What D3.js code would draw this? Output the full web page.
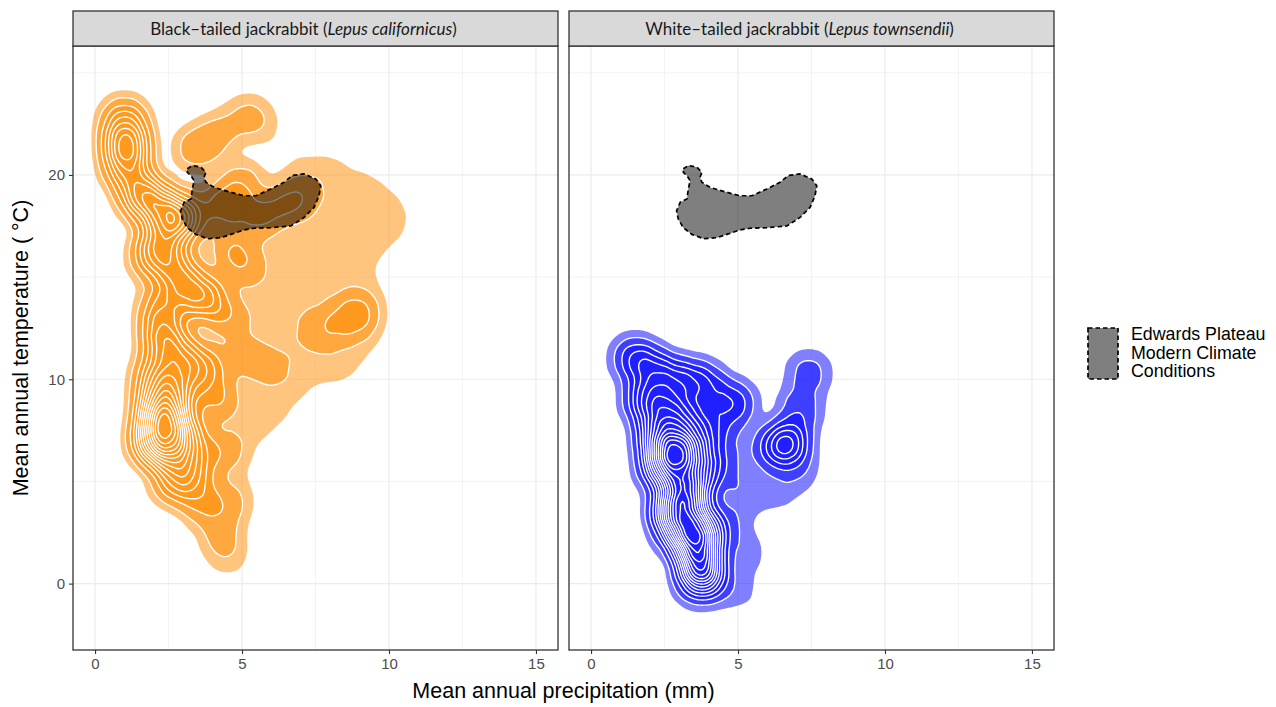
<!DOCTYPE html>
<html>
<head>
<meta charset="utf-8">
<script src="https://cdn.jsdelivr.net/npm/d3@7"></script>
<style>
  body { margin: 0; background: #fff; }
  svg { display: block; }
</style>
</head>
<body>
<svg id="chart" width="1276" height="707"></svg>
<script>
// Black-tailed jackrabbit localities: precipitation (mm), temperature (°C), number of records
const btjPrecip = [1.0, 1.05, 1.1, 1.6, 2.2, 2.9, 2.3, 2.0, 2.7, 3.7, 3.0, 2.3, 2.3, 2.4, 3.0, 3.7, 2.1, 2.7, 2.5, 2.1,
                   2.0, 2.5, 3.1, 3.3, 2.7, 3.6, 4.2, 4.5, 3.4, 4.3, 5.2, 5.6, 5.0, 4.4, 5.6, 6.6, 7.2, 5.0, 4.5, 8.9,
                   8.3, 7.6, 5.0, 6.0, 4.1, 4.3, 4.6, 4.6, 4.0,
                   6.6, 7.4, 8.2, 8.0, 8.8, 9.4, 8.0, 8.8, 9.6, 10.1, 7.4, 8.2, 9.0, 9.8, 10.2,
                   5.6, 6.4, 7.2, 8.0, 8.8, 9.6, 5.2, 6.0, 6.8, 7.6, 8.4, 9.1, 5.2, 6.0, 6.8, 7.6, 8.4, 9.2,
                   5.2, 6.0, 6.8, 7.6, 9.3, 5.2, 6.0, 6.8, 7.6, 8.4, 9.2, 5.2, 6.0, 6.8, 7.6, 8.4, 9.1,
                   5.6, 6.4, 7.2, 8.0, 8.5, 5.4, 6.2, 7.0, 5.0, 5.8, 6.2, 5.0, 5.6, 4.9, 4.7, 4.6, 4.5];
const btjTemp   = [22.7, 21.5, 20.3, 19.0, 18.4, 17.9, 17.0, 16.0, 15.6, 14.0, 14.6, 13.6, 12.5, 11.5, 11.0, 10.5, 10.0, 9.5, 8.0, 8.5,
                   7.0, 6.5, 7.0, 5.5, 5.0, 4.0, 2.5, 1.3, 21.3, 22.2, 23.0, 22.4, 19.6, 18.5, 18.0, 18.6, 19.2, 15.5, 13.0, 13.2,
                   12.8, 12.4, 11.0, 10.6, 9.0, 6.5, 4.0, 16.5, 21.6,
                   20.5, 20.5, 20.5, 19.5, 19.5, 19.5, 18.5, 18.5, 18.5, 18.5, 17.5, 17.5, 17.5, 17.5, 17.5,
                   16.5, 16.5, 16.5, 16.5, 16.5, 16.5, 15.5, 15.5, 15.5, 15.5, 15.5, 15.5, 14.5, 14.5, 14.5, 14.5, 14.5, 14.5,
                   13.5, 13.5, 13.5, 13.5, 13.5, 12.5, 12.5, 12.5, 12.5, 12.5, 12.5, 11.5, 11.5, 11.5, 11.5, 11.5, 11.5,
                   10.5, 10.5, 10.5, 10.5, 10.5, 9.5, 9.5, 9.5, 8.5, 8.5, 8.5, 7.5, 7.5, 6.5, 5.0, 3.5, 2.0];
const btjCount  = [3, 6, 4, 5, 4, 6, 3.5, 3.5, 3, 4, 3, 2.5, 3, 3.5, 3, 3, 4, 5, 8, 5,
                   6, 5, 4, 3, 3, 2, 1, 0.6, 1.5, 0.9, 0.9, 0.6, 1.5, 2.5, 2, 1.8, 0.8, 1.2, 1.5, 2.0,
                   0.8, 0.8, 1.0, 0.6, 2, 1.5, 1, 1.5, 0.5,
                   0.25, 0.25, 0.25, 0.25, 0.25, 0.25, 0.25, 0.25, 0.25, 0.25, 0.25, 0.25, 0.25, 0.25, 0.25,
                   0.25, 0.25, 0.25, 0.25, 0.25, 0.25, 0.2, 0.25, 0.25, 0.25, 0.25, 0.25, 0.2, 0.25, 0.25, 0.25, 0.25, 0.25,
                   0.2, 0.25, 0.25, 0.25, 0.25, 0.2, 0.25, 0.25, 0.25, 0.25, 0.25, 0.2, 0.25, 0.25, 0.25, 0.25, 0.25,
                   0.2, 0.25, 0.25, 0.25, 0.25, 0.2, 0.25, 0.25, 0.2, 0.25, 0.25, 0.2, 0.25, 0.25, 0.25, 0.25, 0.25];

// White-tailed jackrabbit localities
const wtjPrecip = [1.5, 2.2, 2.9, 3.6, 4.1, 4.85, 1.9, 2.6, 3.3, 2.3, 2.9, 3.5, 2.4, 3.0, 3.3, 2.8, 3.5, 3.0, 3.6, 3.7,
                   3.9, 3.6, 4.0, 3.9, 4.2, 4.6, 5.2, 5.2, 5.0, 5.6, 6.3, 6.7, 7.1, 7.4, 7.0, 6.3, 4.8];
const wtjTemp   = [11.0, 10.4, 9.9, 9.9, 9.5, 8.8, 9.0, 8.5, 8.0, 7.3, 6.6, 6.5, 5.8, 5.3, 4.4, 3.6, 3.0, 2.5, 1.9, 0.8,
                   0.2, -0.2, 2.5, 5.5, 7.5, 6.0, 4.5, 1.5, -0.3, 6.8, 6.5, 6.9, 8.5, 10.3, 5.5, 4.5, 3.0];
const wtjCount  = [2, 2, 2, 1.5, 1.0, 1.8, 3, 3, 3, 4, 6, 3, 4, 4, 5, 5, 4, 3, 5, 5,
                   2, 0.6, 2, 2, 1.5, 0.6, 0.6, 0.5, 0.4, 0.3, 1.2, 3, 1.2, 1, 0.6, 0.4, 0.5];

// Edwards Plateau modern climate envelope (outline vertices)
const plateauPrecip = [3.14, 3.31, 3.60, 3.77, 3.71, 3.77, 4.05, 4.62, 5.07, 5.47, 5.98, 6.43, 6.71, 7.11, 7.51, 7.68, 7.62, 7.45,
                       7.11, 6.66, 5.98, 5.41, 5.07, 4.62, 4.28, 3.82, 3.43, 3.14, 2.97, 2.91, 3.03, 3.26, 3.31, 3.37, 3.26, 3.14];
const plateauTemp   = [20.30, 20.46, 20.38, 20.13, 19.89, 19.64, 19.39, 19.15, 18.98, 18.98, 19.31, 19.64, 19.97, 20.05, 19.80, 19.47, 18.98, 18.41,
                       17.92, 17.50, 17.42, 17.39, 17.31, 17.09, 16.93, 16.88, 17.09, 17.42, 17.83, 18.24, 18.66, 18.82, 19.31, 19.72, 19.97, 20.13];

const xTicks = [0, 5, 10, 15];
const xMinor = [2.5, 7.5, 12.5];
const yTicks = [0, 10, 20];
const yMinor = [5, 15, 25];
const facetCommon = ["Black\u2013tailed jackrabbit (", "White\u2013tailed jackrabbit ("];
const facetLatin = ["Lepus californicus", "Lepus townsendii"];
const facetFill = ["darkorange", "blue"];
const legendLines = ["Edwards Plateau", "Modern Climate", "Conditions"];

const svg = d3.select("#chart");
const panelTop = 46, panelBottom = 650, panelW = 485, panelH = panelBottom - panelTop;
const panelLeft = [73, 569];
const stripTop = 11;

const x = d3.scaleLinear().domain([-0.75, 15.75]).range([0, panelW]);
const y = d3.scaleLinear().domain([-3.25, 26.31]).range([panelH, 0]);

const species = [
  { p: btjPrecip, t: btjTemp, w: btjCount, bw: 13.5, levels: 15, outer: 0.4 },
  { p: wtjPrecip, t: wtjTemp, w: wtjCount, bw: 13, levels: 16, outer: 0.35 }
];

const plateau = plateauPrecip.map((p, i) => [x(p), y(plateauTemp[i])]);
const path = d3.geoPath();
const sans = "'Liberation Sans', Arial, sans-serif";

species.forEach((sp, i) => {
  const g = svg.append("g").attr("transform", `translate(${panelLeft[i]},${panelTop})`);
  g.append("clipPath").attr("id", "clip" + i)
    .append("rect").attr("width", panelW).attr("height", panelH);

  // grid
  const grid = g.append("g");
  xMinor.forEach(v => grid.append("line").attr("x1", x(v)).attr("x2", x(v)).attr("y1", 0).attr("y2", panelH)
    .attr("stroke", "#EBEBEB").attr("stroke-width", 0.6));
  yMinor.forEach(v => grid.append("line").attr("y1", y(v)).attr("y2", y(v)).attr("x1", 0).attr("x2", panelW)
    .attr("stroke", "#EBEBEB").attr("stroke-width", 0.6));
  xTicks.forEach(v => grid.append("line").attr("x1", x(v)).attr("x2", x(v)).attr("y1", 0).attr("y2", panelH)
    .attr("stroke", "#EBEBEB").attr("stroke-width", 1.2));
  yTicks.forEach(v => grid.append("line").attr("y1", y(v)).attr("y2", y(v)).attr("x1", 0).attr("x2", panelW)
    .attr("stroke", "#EBEBEB").attr("stroke-width", 1.2));

  // 2D kernel density of localities
  const pts = sp.p.map((p, k) => ({ p, t: sp.t[k], w: sp.w[k] }));
  const density = d3.contourDensity()
    .x(d => x(d.p)).y(d => y(d.t)).weight(d => d.w)
    .size([panelW, panelH]).cellSize(2).bandwidth(sp.bw);
  const contours = density.contours(pts);
  const step = contours.max / sp.levels;
  const body = g.append("g").attr("clip-path", `url(#clip${i})`);

  body.append("path").attr("d", path(contours(step * sp.outer)))
    .attr("fill", facetFill[i]).attr("fill-opacity", 0.5);
  for (let k = 1; k < sp.levels; k++) {
    body.append("path").attr("d", path(contours(step * k)))
      .attr("fill", k <= 2 ? facetFill[i] : "none").attr("fill-opacity", 0.5)
      .attr("stroke", "white").attr("stroke-width", 1.4);
  }

  // Edwards Plateau envelope
  body.append("path").attr("d", "M" + plateau.join("L") + "Z")
    .attr("fill", "black").attr("fill-opacity", 0.5)
    .attr("stroke", "black").attr("stroke-width", 1.7).attr("stroke-dasharray", "4.5,3");

  // panel border
  g.append("rect").attr("width", panelW).attr("height", panelH)
    .attr("fill", "none").attr("stroke", "#333333").attr("stroke-width", 1.3);

  // strip
  const strip = svg.append("g").attr("transform", `translate(${panelLeft[i]},${stripTop})`);
  strip.append("rect").attr("width", panelW).attr("height", panelTop - stripTop)
    .attr("fill", "#D9D9D9").attr("stroke", "#333333").attr("stroke-width", 1.3);
  const st = strip.append("text").attr("x", panelW / 2 - 12).attr("y", 23.5)
    .attr("text-anchor", "middle").attr("font-family", "Lato, 'Open Sans', sans-serif")
    .attr("font-size", 17).attr("fill", "#1A1A1A");
  st.append("tspan").text(facetCommon[i]);
  st.append("tspan").attr("font-style", "italic").text(facetLatin[i]);
  st.append("tspan").text(")");

  // x axis
  const xa = g.append("g").attr("transform", `translate(0,${panelH})`)
    .call(d3.axisBottom(x).tickValues(xTicks).tickSize(4).tickPadding(4));
  xa.select(".domain").remove();
  xa.selectAll("line").attr("stroke", "#333333").attr("stroke-width", 1.1);
  xa.selectAll("text").attr("fill", "#4D4D4D").attr("font-size", 15).attr("font-family", sans);

  if (i === 0) {
    const ya = g.append("g").call(d3.axisLeft(y).tickValues(yTicks).tickSize(4).tickPadding(4));
    ya.select(".domain").remove();
    ya.selectAll("line").attr("stroke", "#333333").attr("stroke-width", 1.1);
    ya.selectAll("text").attr("fill", "#4D4D4D").attr("font-size", 15).attr("font-family", sans);
  }
});

// axis titles
svg.append("text").attr("x", (panelLeft[0] + panelLeft[1] + panelW) / 2).attr("y", 698)
  .attr("text-anchor", "middle").attr("font-family", sans)
  .attr("font-size", 21.5).attr("fill", "black").text("Mean annual precipitation (mm)");
svg.append("text").attr("transform", `translate(28,${(panelTop + panelBottom) / 2}) rotate(-90)`)
  .attr("text-anchor", "middle").attr("font-family", sans)
  .attr("font-size", 21.5).attr("fill", "black").text("Mean annual temperature ( \u00B0C)");

// legend
const lg = svg.append("g").attr("transform", "translate(1088,328)");
lg.append("rect").attr("width", 30).attr("height", 51)
  .attr("fill", "black").attr("fill-opacity", 0.5)
  .attr("stroke", "black").attr("stroke-width", 1.7).attr("stroke-dasharray", "4.5,3");
legendLines.forEach((s, k) => {
  lg.append("text").attr("x", 43).attr("y", 12 + k * 18.7)
    .attr("font-family", sans).attr("font-size", 17.8)
    .attr("fill", "black").text(s);
});
</script>
</body>
</html>
